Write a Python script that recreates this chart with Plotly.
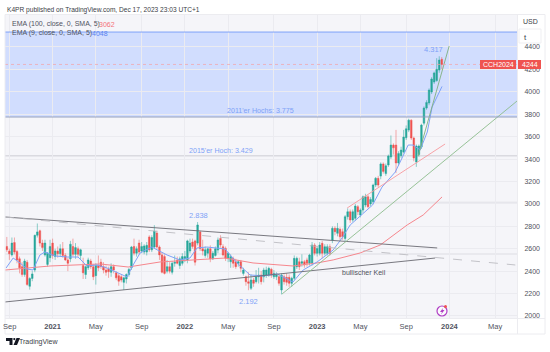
import pandas as pd
import plotly.graph_objects as go

# --- weekly candles (CCH2024) ---
opens = [2620,2580,2545,2655,2575,2510,2440,2370,2480,2265,2335,2410,2720,2760,2650,2545,2460,2520,2650,2530,
 2580,2555,2600,2540,2500,2510,2620,2550,2600,2540,2450,2370,2430,2490,2440,2360,2450,2480,2440,2410,
 2420,2390,2440,2385,2360,2350,2300,2330,2370,2430,2620,2560,2650,2580,2570,2570,2705,2590,2615,2740,
 2615,2545,2530,2400,2440,2390,2470,2500,2450,2470,2510,2500,2580,2660,2670,2650,2750,2600,2540,2560,
 2600,2510,2540,2588,2692,2618,2603,2514,2484,2514,2484,2470,2484,2380,2350,2306,2247,2321,2306,2350,
 2365,2350,2365,2365,2416,2350,2350,2350,2232,2350,2345,2345,2291,2336,2440,2484,2470,2484,2500,2470,
 2470,2633,2559,2559,2648,2559,2559,2618,2678,2782,2737,2773,2752,2692,2886,2930,2856,2871,2975,2900,
 2945,2990,3064,3000,3020,3168,3228,3248,3356,3270,3347,3418,3525,3525,3365,3430,3462,3590,3658,3747,
 3587,3373,3440,3507,3720,3855,3900,3998,4087,4100,4194,4290]
highs = [2705,2600,2700,2700,2590,2530,2480,2510,2500,2345,2400,2725,2825,2770,2680,2680,2570,2680,2690,2600,
 2620,2640,2660,2560,2520,2670,2690,2650,2620,2600,2520,2450,2520,2510,2460,2470,2540,2510,2480,2450,
 2440,2470,2460,2400,2380,2370,2350,2380,2430,2625,2690,2620,2680,2660,2640,2660,2720,2720,2810,2760,
 2630,2570,2550,2500,2480,2490,2540,2530,2530,2560,2580,2680,2690,2690,2680,2838,2760,2680,2620,2610,
 2630,2580,2620,2700,2720,2640,2620,2570,2550,2530,2510,2500,2500,2430,2360,2390,2370,2340,2410,2430,
 2400,2430,2440,2440,2430,2410,2390,2370,2380,2370,2380,2370,2350,2540,2530,2520,2550,2500,2520,2555,
 2660,2650,2620,2660,2670,2640,2640,2640,2800,2800,2830,2790,2780,2900,2960,2950,2950,3000,2990,2960,
 3075,3090,3080,3060,3180,3240,3250,3370,3370,3360,3440,3610,3540,3660,3470,3510,3660,3700,3760,3755,
 3600,3530,3530,3715,3870,3925,4030,4130,4180,4300,4317,4310]
lows = [2570,2500,2530,2550,2470,2380,2350,2350,2270,2235,2310,2390,2700,2620,2580,2530,2440,2480,2510,2500,
 2520,2530,2520,2490,2400,2480,2530,2510,2530,2500,2330,2330,2410,2420,2320,2280,2400,2420,2380,2360,
 2340,2350,2380,2320,2270,2300,2232,2290,2350,2410,2540,2530,2550,2560,2550,2540,2570,2570,2600,2600,
 2500,2380,2370,2380,2380,2370,2440,2460,2420,2450,2480,2470,2560,2600,2450,2630,2580,2540,2520,2520,
 2480,2500,2530,2560,2610,2530,2490,2480,2430,2430,2420,2440,2390,2360,2270,2230,2232,2260,2290,2290,
 2280,2300,2340,2350,2340,2330,2320,2270,2192,2280,2270,2260,2260,2320,2420,2410,2440,2430,2440,2450,
 2450,2540,2530,2540,2514,2540,2540,2540,2650,2720,2710,2680,2680,2670,2860,2830,2840,2850,2900,2880,
 2920,2970,2960,2980,3000,3150,3150,3220,3270,3250,3330,3400,3440,3275,3340,3410,3450,3570,3640,3570,
 3380,3330,3420,3490,3700,3840,3880,3980,4070,4090,4170,4200]
closes = [2590,2555,2650,2570,2500,2430,2370,2490,2280,2335,2375,2720,2750,2650,2610,2650,2560,2620,2540,2580,
 2555,2600,2540,2500,2470,2640,2550,2610,2550,2590,2385,2440,2500,2440,2350,2450,2430,2440,2410,2390,
 2395,2440,2410,2340,2310,2320,2340,2370,2415,2615,2560,2600,2570,2620,2625,2630,2590,2700,2758,2615,
 2545,2390,2380,2440,2400,2470,2480,2470,2510,2530,2530,2670,2650,2620,2480,2812,2600,2580,2590,2600,
 2510,2560,2600,2678,2633,2544,2514,2559,2529,2470,2440,2484,2425,2410,2306,2291,2321,2291,2350,2365,
 2306,2410,2410,2425,2365,2380,2365,2291,2365,2306,2300,2291,2336,2514,2514,2440,2484,2455,2470,2544,
 2633,2559,2603,2633,2559,2618,2618,2559,2782,2752,2782,2707,2707,2886,2930,2856,2930,2981,2930,2945,
 3064,3064,2975,3040,3168,3228,3168,3356,3290,3340,3427,3525,3500,3365,3450,3480,3596,3670,3747,3587,
 3409,3516,3516,3703,3855,3905,4015,4114,4168,4200,4283,4244]

# --- indicator vertices: week number (0 = 7 Sep 2020) and price ---
ema9_weeks = [-1.3,1.5,4.2,7,9.3,12,14,18,23,27,30.5,34.5,38.4,46.3,48.2,51.4,56,62,67,71,73.8,77.7,84.8,89.5,
 94.6,99.8,105.3,111.5,115.5,121,127.3,130.8,134,137,142.8,146.5,151.7,154.4,156.8,158.7,161.5,164.3,166.2,170.1]
ema9_values = [2428,2517,2473,2419,2410,2544,2571,2535,2526,2526,2446,2455,2428,2348,2437,2562,2615,2544,2500,2517,
 2607,2615,2598,2473,2366,2357,2375,2303,2410,2482,2589,2696,2812,2874,2990,3150,3284,3410,3525,3525,3481,3641,3864,4048]
ema100_weeks = [-1.7,16,35.7,46.7,59.3,73.8,84.8,95.8,111.5,121,127.3,137.9,145.8,156.4,162.7,170.1]
ema100_values = [2410,2446,2464,2437,2482,2500,2517,2473,2446,2473,2500,2562,2633,2812,2901,3062]

# --- drawings: (week, price) end points ---
wedge_upper = [(-1.7, 2883), (168.2, 2607)]
wedge_lower = [(-1.7, 2125), (167.4, 2517)]
wedge_dash = [(-1.7, 2883), (198.9, 2455)]
green_long = [(107.2, 2196), (199.6, 3918)]
green_steep = [(160.7, 3427), (172.9, 4408)]
red_channel = [(132.8, 2963), (171.3, 3534)]
zone_top, zone_bottom = 4533, 3775
level_2015 = 3429
level_a, level_b = 3015, 2553
last_price = 4244

y_ticks = [2000,2200,2400,2600,2800,3000,3200,3400,3600,3800,4000,4200,4400]
x_tick_dates = ["2020-09-07","2021-01-04","2021-05-03","2021-09-06","2022-01-03","2022-05-02","2022-09-05",
 "2023-01-02","2023-05-01","2023-09-04","2024-01-01","2024-05-06"]
x_tick_text = [" ","<b>2021</b>","May","Sep","<b>2022</b>","May","Sep","<b>2023</b>","May","Sep","<b>2024</b>","May"]

TEAL, RED, BLUE = "#26a69a", "#ef5350", "#5b84f0"
TEAL_WICK, RED_WICK = "rgba(38,166,154,0.65)", "rgba(239,83,80,0.6)"
FONT = "Liberation Sans"
L, R, T, B = 5, 517, 15, 318
W, H = 550, 352
def px(x): return (x - L) / (R - L)
def py(y): return (B - y) / (B - T)
def wk(w): return pd.Timestamp("2020-09-07") + pd.Timedelta(days=7 * w)

dates = pd.date_range("2020-08-31", periods=len(closes), freq="7D")
fig = go.Figure()
fig.add_trace(go.Candlestick(x=dates, open=opens, high=highs, low=lows, close=closes, whiskerwidth=0,
    increasing=dict(line=dict(color=TEAL_WICK, width=0.8), fillcolor=TEAL),
    decreasing=dict(line=dict(color=RED_WICK, width=0.8), fillcolor=RED), showlegend=False, hoverinfo="skip"))
fig.add_trace(go.Scatter(x=[wk(w) for w in ema100_weeks], y=ema100_values, mode="lines",
    line=dict(color="#f6868d", width=1), showlegend=False, hoverinfo="skip"))
fig.add_trace(go.Scatter(x=[wk(w) for w in ema9_weeks], y=ema9_values, mode="lines",
    line=dict(color="#7fa2f7", width=1), showlegend=False, hoverinfo="skip"))
for pts, col, wd, dash in [(wedge_upper, "#6a6a72", 0.9, "solid"), (wedge_lower, "#6a6a72", 0.9, "solid"),
                           (wedge_dash, "#bcbcc2", 0.9, "dash"), (green_long, "#8cbc8c", 0.9, "solid"),
                           (green_steep, "#7fb07f", 0.9, "solid"), (red_channel, "#f7989d", 0.9, "solid")]:
    fig.add_trace(go.Scatter(x=[wk(p[0]) for p in pts], y=[p[1] for p in pts], mode="lines",
        line=dict(color=col, width=wd, dash=dash), showlegend=False, hoverinfo="skip"))

shapes = [
    dict(type="rect", xref="paper", yref="y", x0=0, x1=1, y0=zone_bottom, y1=zone_top, layer="below",
         fillcolor="rgba(195,212,255,0.72)", line=dict(width=0)),
    dict(type="line", xref="paper", yref="y", x0=0, x1=1, y0=zone_top, y1=zone_top, line=dict(color="#7fa2f7", width=1)),
    dict(type="line", xref="paper", yref="y", x0=0, x1=1, y0=zone_bottom, y1=zone_bottom, line=dict(color="#8d99b8", width=0.9)),
    dict(type="line", xref="paper", yref="y", x0=0, x1=1, y0=level_2015, y1=level_2015, layer="below", line=dict(color="#dadae0", width=1.5)),
    dict(type="line", xref="paper", yref="y", x0=0, x1=1, y0=level_a, y1=level_a, layer="below", line=dict(color="#e0e0e6", width=1)),
    dict(type="line", xref="paper", yref="y", x0=0, x1=1, y0=level_b, y1=level_b, layer="below", line=dict(color="#e4e4ea", width=1.5)),
    dict(type="line", xref="paper", yref="y", x0=0, x1=1, y0=last_price, y1=last_price, line=dict(color="#f4a0a4", width=0.7, dash="dot")),
]
def prect(x0, y0, x1, y1, **kw):
    return dict(type="rect", xref="paper", yref="paper", x0=px(x0), x1=px(x1), y0=py(y0), y1=py(y1), **kw)
def pline(x0, y0, x1, y1, col="#ececf0"):
    return dict(type="line", xref="paper", yref="paper", x0=px(x0), x1=px(x1), y0=py(y0), y1=py(y1), line=dict(color=col, width=1))
shapes += [
    pline(5, 14.5, 545, 14.5), pline(5, 14.5, 5, 334), pline(5, 318.5, 545, 318.5), pline(5, 334, 545, 334),
    pline(517.5, 14.5, 517.5, 334), pline(545, 14.5, 545, 334),
    prect(480, 60, 516, 69, fillcolor=RED, line=dict(width=0)),
    prect(518, 60, 541, 69, fillcolor=RED, line=dict(width=0)),
    prect(519, 29, 541, 43, fillcolor="#ffffff", line=dict(color="#efeff2", width=1)),
    dict(type="circle", xref="paper", yref="paper", x0=px(437), x1=px(447), y0=py(306), y1=py(316), line=dict(color="#b03ec4", width=1.2), fillcolor="rgba(255,255,255,0.6)"),
    dict(type="circle", xref="paper", yref="paper", x0=px(444), x1=px(447), y0=py(305), y1=py(308), line=dict(width=0), fillcolor=RED),
]
def path(pts):
    return "M" + " L".join(f"{px(x):.5f},{py(y):.5f}" for x, y in pts) + " Z"
shapes += [
    dict(type="path", xref="paper", yref="paper", path=path([(443,308),(440,312),(442,312),(441,314.5),(444.5,310),(442.5,310)]), fillcolor="#b03ec4", line=dict(width=0)),
    dict(type="path", xref="paper", yref="paper", path=path([(6,338),(12.5,338),(12.5,345),(9.5,345),(9.5,341),(6,341)]), fillcolor="#131722", line=dict(width=0)),
    dict(type="path", xref="paper", yref="paper", path=path([(16.5,338),(20,338),(17,345),(13.5,345)]), fillcolor="#131722", line=dict(width=0)),
    dict(type="circle", xref="paper", yref="paper", x0=px(13.2), x1=px(15.4), y0=py(338), y1=py(340.2), fillcolor="#131722", line=dict(width=0)),
]

def note(text, x, y, size=8, color="#50535e", anchor="left", **kw):
    if anchor == "left":
        x -= 1.5
    return dict(text=text, xref="paper", yref="paper", x=px(x), y=py(y), xanchor=anchor, yanchor="middle",
                showarrow=False, font=dict(family=FONT, size=size, color=color), **kw)
ann = [
    note("K4PR published on TradingView.com, Dec 17, 2023 23:03 UTC+1", 6, 10, 6.6, "#3b3e47"),
    note("EMA (100, close, 0, SMA, 5)", 11, 24, 7, "#50535e"),
    note("3062", 98, 24, 7, "#f4727a"),
    note("EMA (9, close, 0, SMA, 5)", 11, 33, 7, "#50535e"),
    note("4048", 91, 33, 7, "#5b84f0"),
    note("2011'er Hochs: 3.775", 260, 111, 7.1, "#7fa2f7", "center"),
    note("2015'er Hoch: 3.429", 220.5, 151, 7.1, "#7fa2f7", "center"),
    note("2.838", 198, 216, 7.5, "#7fa2f7", "center"),
    note("2.192", 248, 301, 7.5, "#7fa2f7", "center"),
    note("4.317", 433, 50, 7.5, "#7fa2f7", "center"),
    note("bullischer Keil", 364, 272, 7, "#50535e", "center"),
    note("CCH2024", 498, 64.5, 7, "#ffffff", "center"),
    note("4244", 529.5, 64.5, 7, "#ffffff", "center"),
    note("USD", 530, 22, 7, "#3b3e47", "center"),
    note("t", 525, 37, 8, "#3b3e47", "center"),
    note("Sep", 9.5, 326, 7.5, "#50535e", "center"),
    note("TradingView", 18, 342, 7, "#3b3e47"),
]

fig.update_layout(
    width=W, height=H, margin=dict(l=L, r=W - R, t=T, b=H - B), paper_bgcolor="#ffffff", plot_bgcolor="#f5f5f9",
    font=dict(family=FONT, size=8, color="#50535e"), shapes=shapes, annotations=ann, showlegend=False, boxgap=0.1,
    xaxis=dict(type="date", range=["2020-08-26", "2024-07-05"], rangeslider=dict(visible=False), tickmode="array",
               tickvals=x_tick_dates, ticktext=x_tick_text, tickangle=0, showgrid=True, gridcolor="#ebebf0", gridwidth=1,
               ticks="outside", ticklen=1, tickcolor="rgba(0,0,0,0)", zeroline=False, showline=False,
               tickfont=dict(size=7.5, color="#50535e", family=FONT)),
    yaxis=dict(range=[1982, 4685], side="right", tickmode="array", tickvals=y_ticks, showgrid=True, gridcolor="#ebebf0",
               gridwidth=1, ticks="outside", ticklen=5, tickcolor="rgba(0,0,0,0)", zeroline=False, showline=False,
               tickfont=dict(size=7, color="#50535e", family=FONT), tickformat="d"),
)
fig.write_html("out.html", config=dict(displayModeBar=False),
               post_script="document.body.style.margin='0';")
